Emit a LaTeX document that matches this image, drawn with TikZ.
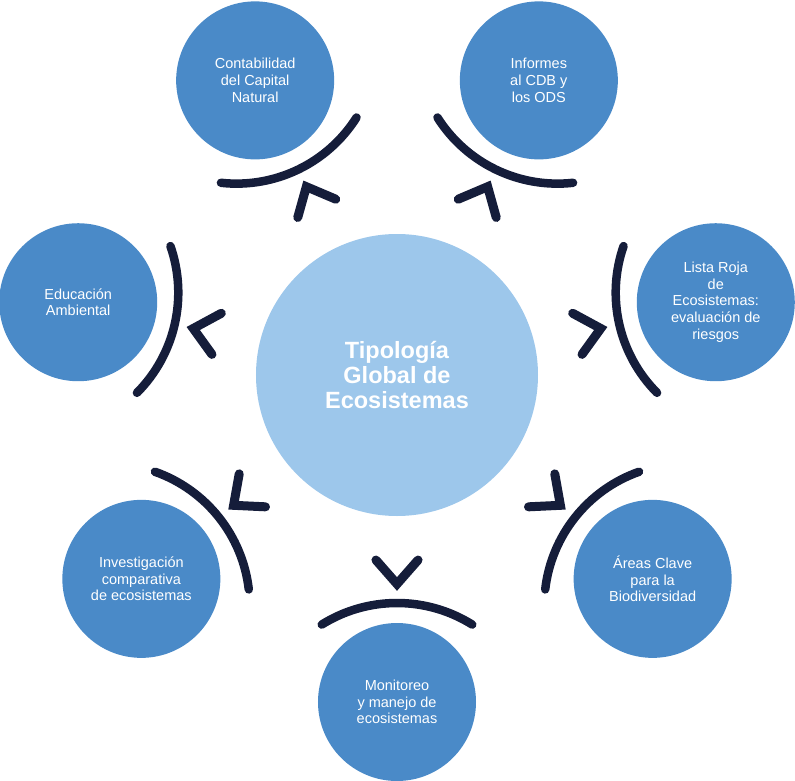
\documentclass[tikz,border=0pt]{standalone}
\usepackage{fontspec}
\setmainfont{Liberation Sans}
\usepackage{tikz}
\usetikzlibrary{calc}
\definecolor{bubble}{HTML}{4A8AC8}
\definecolor{hub}{HTML}{9DC7EB}
\definecolor{navy}{HTML}{151D3A}

\begin{document}
\begin{tikzpicture}[x=1pt,y=1pt,
    hubnode/.style={circle,fill=hub,minimum size=282pt,inner sep=0pt,text=white,align=center,
        font=\fontsize{23.5}{25}\selectfont\bfseries},
    topic/.style={circle,fill=bubble,minimum size=158pt,inner sep=0pt,text=white,align=center,
        font=\fontsize{14.5}{16.7}\selectfont},
    bow/.style={draw=navy,line width=8.5pt,line cap=round},
    chev/.style={draw=navy,line width=9pt,line cap=round}]
    % Frame
    \useasboundingbox (-397,-405) rectangle (398,375);
    % Hub
    \node[hubnode] (hub) at (0,0) {Tipología\\Global de\\Ecosistemas};
    % Topics, bows & chevrons
    \foreach \n/\a/\t in {
        cont/115.71/{Contabilidad\\del Capital\\Natural},
        info/64.29/{Informes\\al CDB y\\los ODS},
        roja/12.86/{Lista Roja\\de\\Ecosistemas:\\evaluación de\\riesgos},
        akb/-38.57/{Áreas Clave\\para la\\Biodiversidad},
        moni/-90/{Monitoreo\\y manejo de\\ecosistemas},
        inve/-141.43/{Investigación\\comparativa\\de ecosistemas},
        educ/167.14/{Educación\\Ambiental}} {
            \node[topic] (\n) at ($(hub.center)+(\a:327)$) {\t};
            \draw[bow] ($(hub.center)+(\a:370)+(\a+148:142)$)
                arc[start angle=\a+148, end angle=\a+212, radius=142];
            \draw[chev] ($(hub.center)+(\a+6.5:186.2)$) -- ($(hub.center)+(\a:209)$)
                -- ($(hub.center)+(\a-6.5:186.2)$);
        }
\end{tikzpicture}
\end{document}
